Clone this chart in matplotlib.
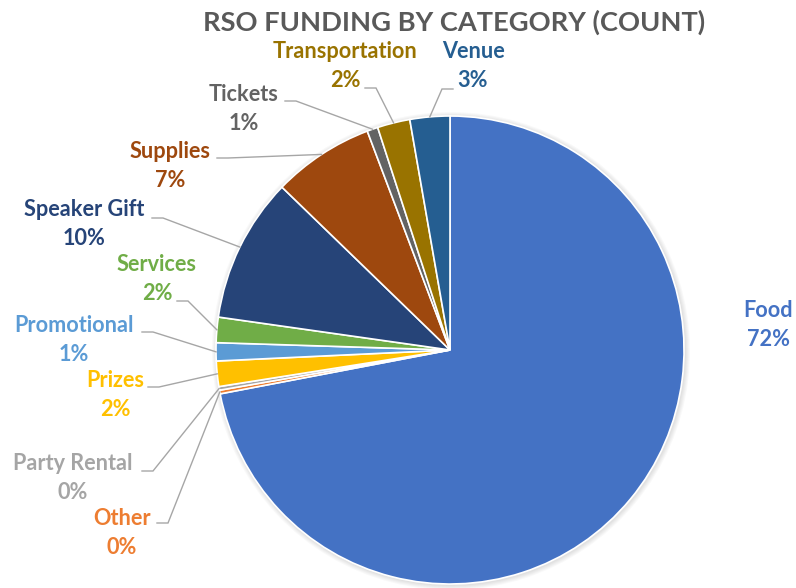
import matplotlib.pyplot as plt
from matplotlib.patches import Wedge
import numpy as np

# RSO funding requests by category (counts)
categories = ['Food', 'Other', 'Party Rental', 'Prizes', 'Promotional', 'Services',
              'Speaker Gift', 'Supplies', 'Tickets', 'Transportation', 'Venue']
counts = [288, 1, 1, 7, 5, 7, 40, 28, 3, 9, 11]
colors = ['#4472C4', '#ED7D31', '#A5A5A5', '#FFC000', '#5B9BD5', '#70AD47',
          '#264478', '#9E480E', '#636363', '#997300', '#255E91']

W, H = 796, 588

# label block centre and leader-line start, in pixels from the top-left
label_layout = {
    'Food': ((768, 325), None),
    'Other': ((122, 533), (157, 523)),
    'Party Rental': ((73, 478), (142, 471)),
    'Prizes': ((115, 395), (148, 387)),
    'Promotional': ((74, 340), (142, 332)),
    'Services': ((157, 279), (177, 301)),
    'Speaker Gift': ((84, 224), (152, 218)),
    'Supplies': ((170, 166), (217, 158)),
    'Tickets': ((244, 109), (285, 101)),
    'Transportation': ((345, 66), (365, 88)),
    'Venue': ((473, 66), (453, 89)),
}

plt.rcParams['font.family'] = ['Lato', 'DejaVu Sans']

fig = plt.figure(figsize=(W / 100, H / 100), dpi=100)
ax = fig.add_axes([0, 0, 1, 1])

cx, cy = 450, H - 350
R = 234
explode = [0.035] + [0] * (len(counts) - 1)

wedges, _ = ax.pie(counts, colors=colors, startangle=90, counterclock=False,
                   explode=explode, center=(cx, cy), radius=R,
                   wedgeprops=dict(edgecolor='white', linewidth=1.2, zorder=3))
ax.set_xlim(0, W)
ax.set_ylim(0, H)
ax.set_aspect('equal')
ax.axis('off')

# soft drop shadow under the slices
for w in wedges:
    wx, wy = w.center
    for k in range(1, 6):
        ax.add_patch(Wedge((wx + 1, wy - 1), R + k, w.theta1, w.theta2,
                           facecolor='black', edgecolor='none', alpha=0.025, zorder=1))

total = sum(counts)
for w, cat, c, col in zip(wedges, categories, counts, colors):
    (tx, ty), start = label_layout[cat]
    ax.text(tx, H - ty, f'{cat}\n{100 * c / total:.0f}%', ha='center', va='center',
            fontsize=15.6, fontweight='bold', color=col, linespacing=1.5)
    if start is None:
        continue
    mid = np.deg2rad((w.theta1 + w.theta2) / 2)
    wx, wy = w.center
    ax_x = wx + R * np.cos(mid)
    ax_y = wy + R * np.sin(mid)
    sx, sy = start[0], H - start[1]
    ex = sx + (11 if ax_x > sx else -11)
    ax.plot([sx, ex, ax_x], [sy, sy, ax_y], color='#A6A6A6', lw=1.0,
            solid_joinstyle='miter', zorder=4)

fig.text(454 / W, 1 - 22 / H, 'RSO FUNDING BY CATEGORY (COUNT)', ha='center', va='center',
         fontsize=19.6, fontweight='bold', color='#595959')

fig.savefig('out.png', dpi=100, facecolor='white')
